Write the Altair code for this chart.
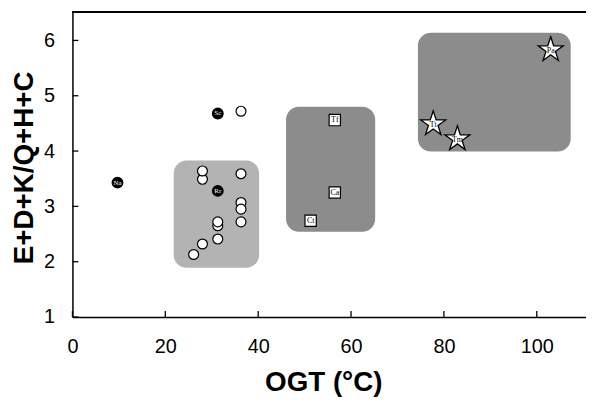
import altair as alt
import pandas as pd

# ---- data ----
open_x = [26.1, 28.0, 31.3, 31.3, 31.3, 28.0, 28.0, 36.3, 36.3, 36.3, 36.3, 36.3]
open_y = [2.13, 2.32, 2.41, 2.65, 2.72, 3.49, 3.64, 3.59, 3.07, 2.95, 2.72, 4.72]

filled_names = ["Na", "Sc", "Rr"]
filled_x = [9.7, 31.3, 31.3]
filled_y = [3.43, 4.68, 3.28]

square_names = ["Tf", "Ca", "Ct"]
square_x = [56.5, 56.5, 51.3]
square_y = [4.56, 3.25, 2.74]

star_names = ["Pa", "Tt", "Tm"]
star_x = [103.0, 77.7, 82.9]
star_y = [5.83, 4.49, 4.22]

box_x1 = [21.8, 46.0, 74.4]
box_x2 = [40.2, 65.2, 107.3]
box_y1 = [1.89, 2.54, 3.99]
box_y2 = [3.83, 4.80, 6.14]
box_group = ["a", "b", "c"]
box_colors = ["#b3b3b3", "#8c8c8c", "#8c8c8c"]

x_ticks = [0, 20, 40, 60, 80, 100]
y_ticks = [1, 2, 3, 4, 5, 6]

W, H = 518, 308
XDOM = [0, 110.6]
YDOM = [1, 6.52]

STAR = ("M0,-1L0.2245,-0.309L0.9511,-0.309L0.3633,0.118L0.5878,0.809"
        "L0,0.382L-0.5878,0.809L-0.3633,0.118L-0.9511,-0.309L-0.2245,-0.309Z")

xaxis = alt.Axis(values=x_ticks, title="OGT (°C)", ticks=False, labelPadding=20,
                 titleX=253, titleY=74, titleBaseline="alphabetic", titleAlign="center")
yaxis = alt.Axis(values=y_ticks, title="E+D+K/Q+H+C", ticks=False, labelPadding=18,
                 titleX=-40, titleY=157, titleBaseline="alphabetic", titleAlign="center",
                 titleAngle=270)

def X(field="x"):
    return alt.X(f"{field}:Q", scale=alt.Scale(domain=XDOM, nice=False, zero=False), axis=xaxis)

def Y(field="y"):
    return alt.Y(f"{field}:Q", scale=alt.Scale(domain=YDOM, nice=False, zero=False), axis=yaxis)

boxes = pd.DataFrame({"x": box_x1, "x2": box_x2, "y": box_y1, "y2": box_y2, "g": box_group})
opens = pd.DataFrame({"x": open_x, "y": open_y})
filled = pd.DataFrame({"x": filled_x, "y": filled_y, "n": filled_names})
squares = pd.DataFrame({"x": square_x, "y": square_y, "n": square_names})
stars = pd.DataFrame({"x": star_x, "y": star_y, "n": star_names})
xt = pd.DataFrame({"x": x_ticks})
yt = pd.DataFrame({"y": y_ticks})

box_layer = alt.Chart(boxes).mark_rect(cornerRadius=13).encode(
    x=X(), x2="x2:Q", y=Y(), y2="y2:Q",
    color=alt.Color("g:N", scale=alt.Scale(domain=box_group, range=box_colors), legend=None),
)

open_layer = alt.Chart(opens).mark_point(shape="circle", filled=True, fill="white",
                                         stroke="black", strokeWidth=1.2, size=100,
                                         opacity=1).encode(x=X(), y=Y())

filled_layer = alt.Chart(filled).mark_point(shape="circle", filled=True, fill="black",
                                            stroke="black", size=100, opacity=1).encode(x=X(), y=Y())
filled_text = alt.Chart(filled).mark_text(font="Liberation Serif", fontSize=7, color="white",
                                          align="center", baseline="middle").encode(
    x=X(), y=Y(), text="n:N")

sq_layer = alt.Chart(squares).mark_point(shape="square", filled=True, fill="white",
                                         stroke="black", strokeWidth=1.2, size=130,
                                         opacity=1).encode(x=X(), y=Y())
sq_text = alt.Chart(squares).mark_text(font="Liberation Serif", fontSize=8, color="black",
                                       align="center", baseline="middle").encode(
    x=X(), y=Y(), text="n:N")

star_layer = alt.Chart(stars).mark_point(shape=STAR, filled=True, fill="white",
                                         stroke="black", strokeWidth=1.3, size=700,
                                         opacity=1).encode(x=X(), y=Y())
star_text = alt.Chart(stars).mark_text(font="Liberation Serif", fontSize=8, color="black",
                                       align="center", baseline="middle", dy=1).encode(
    x=X(), y=Y(), text="n:N")

xtick_layer = alt.Chart(xt).mark_rule(color="black", strokeWidth=1.3).encode(
    x=X(), y=alt.value(H), y2=alt.value(H - 6))
ytick_layer = alt.Chart(yt).mark_rule(color="black", strokeWidth=1.3).encode(
    y=Y(), x=alt.value(0), x2=alt.value(6))

top_border = alt.Chart(xt).mark_rule(color="black", strokeWidth=1.5).encode(
    x=alt.value(0), x2=alt.value(W), y=alt.value(0))

chart = alt.layer(
    box_layer, open_layer, filled_layer, filled_text, sq_layer, sq_text,
    star_layer, star_text, xtick_layer, ytick_layer, top_border,
).properties(
    width=W, height=H,
    autosize=alt.AutoSizeParams(type="none"),
    padding={"left": 65, "top": 2, "right": 0, "bottom": 81},
).configure_view(stroke=None).configure_axis(
    domainColor="black", domainWidth=1.5, grid=False,
    labelFont="Liberation Sans", labelFontSize=20, labelColor="black",
    titleFont="Liberation Sans", titleFontSize=28, titleFontWeight="bold", titleColor="black",
    labelFlush=False,
)

chart.save("out.html", embed_options={"renderer": "svg", "actions": False})
